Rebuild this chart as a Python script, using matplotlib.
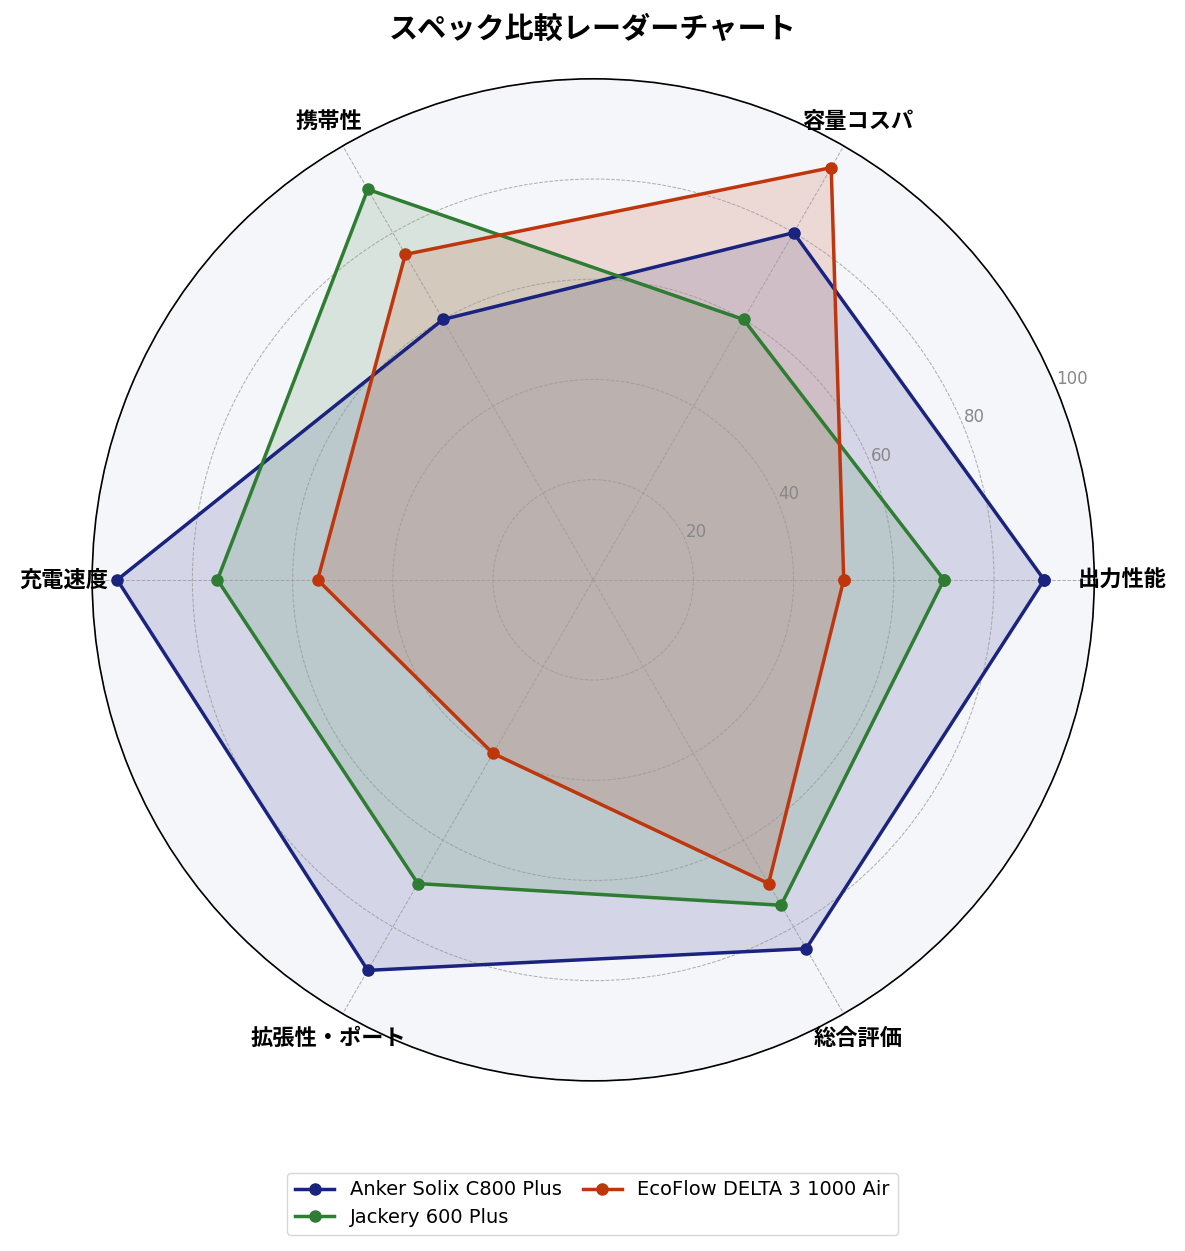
import matplotlib
matplotlib.use("Agg")
import matplotlib.pyplot as plt
import numpy as np

plt.rcParams['font.family'] = ['Noto Sans CJK JP', 'DejaVu Sans']

# axes (clockwise from right side, drawn counter-clockwise)
categories = ['出力性能', '容量コスパ', '携帯性', '充電速度', '拡張性・ポート', '総合評価']

anker = [90, 80, 60, 95, 90, 85]
jackery = [70, 60, 90, 75, 70, 75]
ecoflow = [50, 95, 75, 55, 40, 70]

series_names = ['Anker Solix C800 Plus', 'Jackery 600 Plus', 'EcoFlow DELTA 3 1000 Air']
series_values = [anker, jackery, ecoflow]
colors = ['#1a237e', '#2e7d32', '#bf360c']

r_ticks = [20, 40, 60, 80, 100]

n = len(categories)
angles = np.linspace(0, 2 * np.pi, n, endpoint=False).tolist()
angles_closed = angles + angles[:1]

fig = plt.figure(figsize=(11.85, 12.51), dpi=100)
ax = fig.add_axes([0.0776, 0.136, 0.846, 0.801], projection='polar')
ax.set_facecolor('#f5f6fa')

for name, vals, c in zip(series_names, series_values, colors):
    v = vals + vals[:1]
    ax.plot(angles_closed, v, color=c, linewidth=2.5, marker='o', markersize=8, label=name)
    ax.fill(angles_closed, v, color=c, alpha=0.15)

ax.set_ylim(0, 100)
ax.set_yticks(r_ticks)
ax.set_yticklabels([str(t) for t in r_ticks], color='#888888', fontsize=12,
                   family=['DejaVu Sans'])
ax.set_rlabel_position(22.5)
ax.set_xticks(angles)
ax.set_xticklabels(categories, fontsize=16, fontweight='bold')
ax.tick_params(axis='x', pad=10)
ax.grid(color='#999999', linestyle='--', linewidth=0.7, alpha=0.8)
ax.spines['polar'].set_color('black')
ax.spines['polar'].set_linewidth(1.2)

fig.suptitle('スペック比較レーダーチャート', fontsize=21, fontweight='bold', y=0.989)

fig.legend(loc='lower center', bbox_to_anchor=(0.5, 0.005), ncol=2,
           prop={'family': ['DejaVu Sans'], 'size': 14},
           handlelength=2.0, columnspacing=1.1, handletextpad=0.8, labelspacing=0.45)

fig.savefig('out.png', dpi=100)
